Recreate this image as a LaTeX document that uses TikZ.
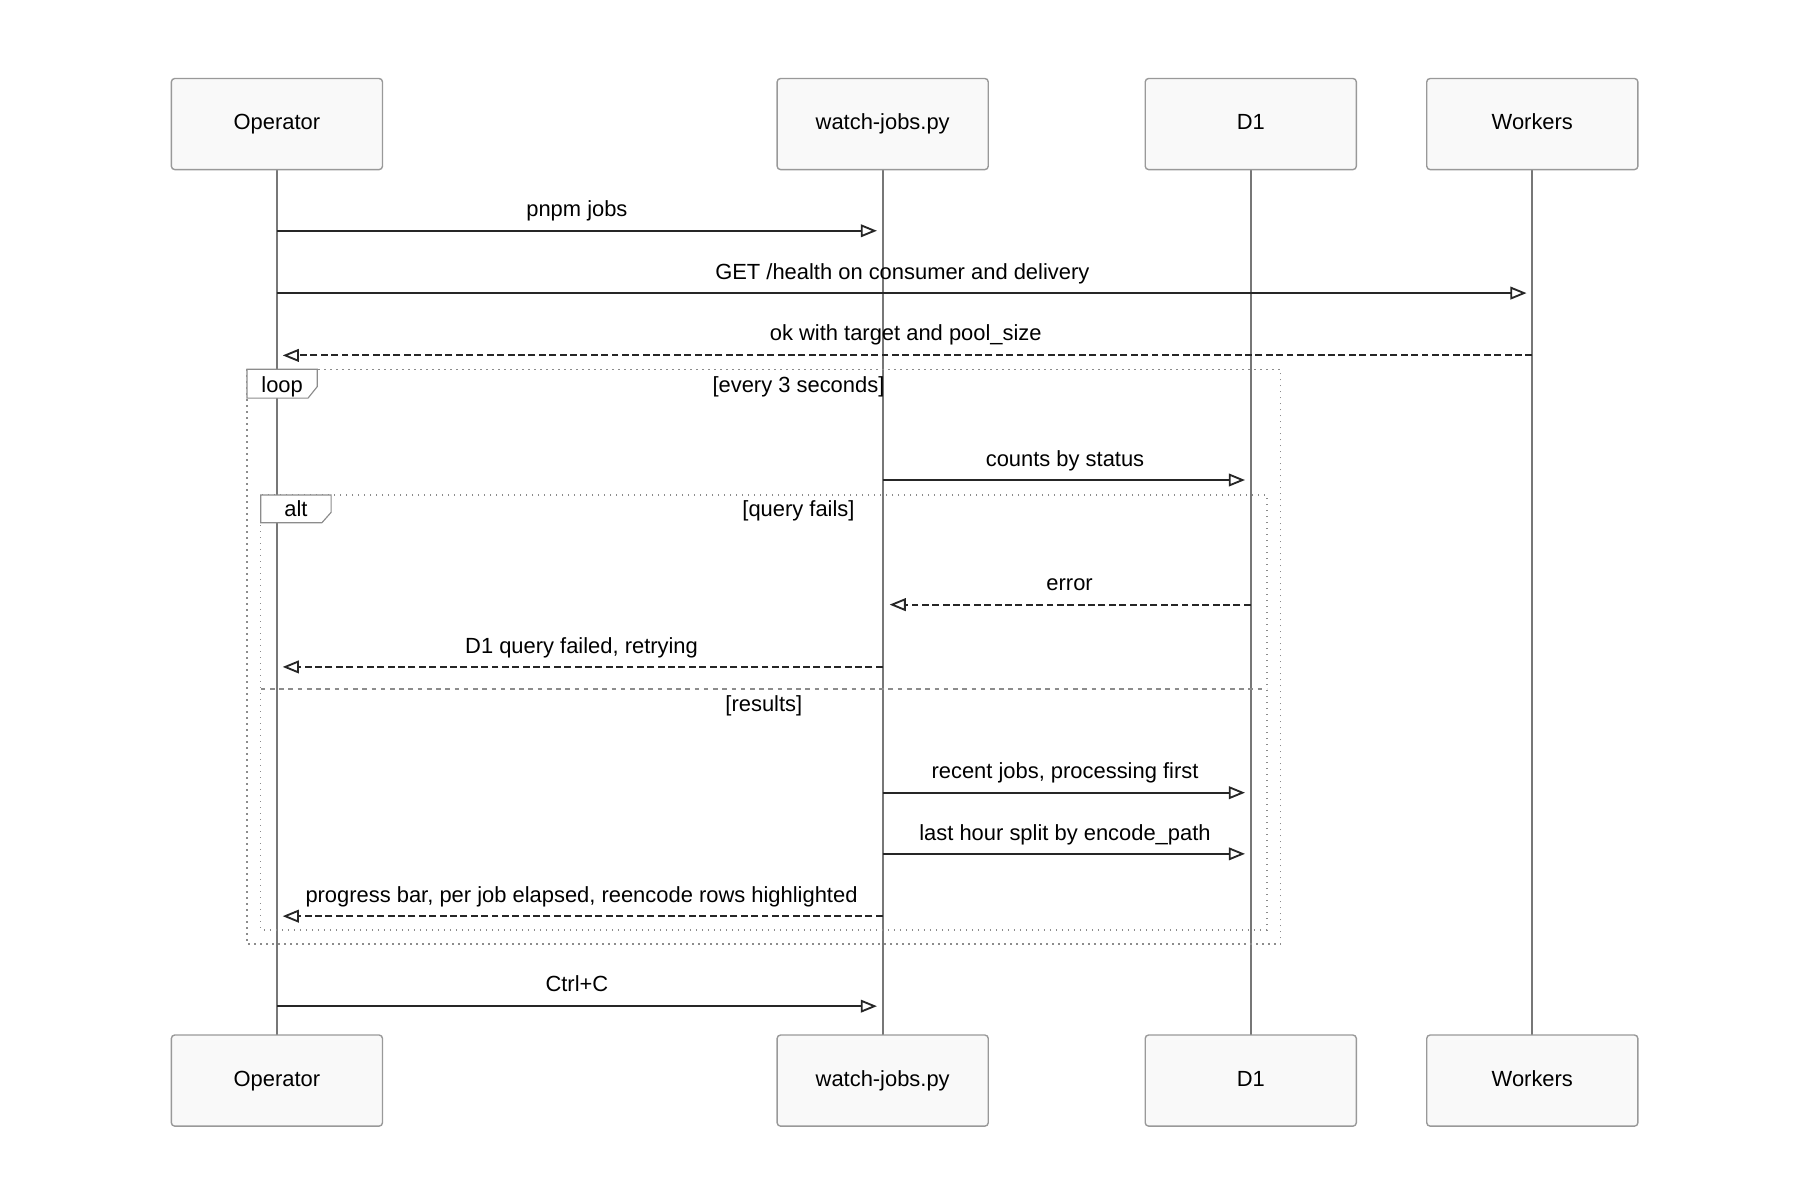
\documentclass[tikz,border=0pt]{standalone}
\usepackage{fontspec}
\setmainfont{Liberation Sans}
\usetikzlibrary{arrows.meta}
\definecolor{boxfill}{HTML}{F9F9F9}
\definecolor{boxline}{HTML}{999999}
\definecolor{lifec}{HTML}{777777}
\tikzset{
  actor/.style={draw=boxline,fill=boxfill,line width=0.6pt,rounded corners=1.5pt,minimum width=91.5pt,minimum height=39.5pt,font=\fontsize{9.5}{11}\selectfont,inner sep=0pt,text height=7pt,text depth=2pt},
  life/.style={draw=lifec,line width=1pt},
  msg/.style={line width=0.8pt,draw=black!85,-{Triangle[open,length=7pt,width=5.5pt]}},
  reply/.style={msg,dashed,dash pattern=on 3pt off 1.5pt},
  lbl/.style={font=\fontsize{9.5}{11}\selectfont,inner sep=0pt,anchor=base},
  frame/.style={draw=black!45,line width=0.6pt,dotted},
  tab/.style={draw=black!45,line width=0.5pt,fill=white}
}
\begin{document}
\begin{tikzpicture}[x=0.5pt,y=-0.5pt]
\useasboundingbox (0,0) rectangle (1560,1040);
% lifelines
\foreach \n/\x in {op/240,wj/765,d1/1084,wk/1328}{
  \coordinate (\n t) at (\x,147);
  \coordinate (\n b) at (\x,897);
  \draw[life] (\n t) -- (\n b);
}
\foreach \n/\x/\t in {op/240/Operator,wj/765/watch-jobs.py,d1/1084/D1,wk/1328/Workers}{
  \node[actor] (\n top) at (\x,107.5) {\t};
  \node[actor] (\n bot) at (\x,936.5) {\t};
}
% frames
\draw[frame] (214,320) rectangle (1110,818);
\draw[tab] (214,320) -- (275,320) -- (275,335) -- (267,345) -- (214,345) -- cycle;
\node[lbl] at (244.5,340) {loop};
\node[lbl] at (692,340) {[every 3 seconds]};
\draw[frame] (226,429) rectangle (1098,806);
\draw[tab] (226,429) -- (287,429) -- (287,444) -- (279,453) -- (226,453) -- cycle;
\node[lbl] at (256.5,448) {alt};
\node[lbl] at (692,448) {[query fails]};
\draw[frame,dashed,dash pattern=on 2pt off 2pt] (226,597) -- (1098,597);
\node[lbl] at (662,617) {[results]};
% messages
\coordinate (a1) at (240,200); \coordinate (b1) at (760,200);
\draw[msg] (a1) -- (b1); \node[lbl] at (500,188) {pnpm jobs};
\coordinate (a2) at (240,254); \coordinate (b2) at (1323,254);
\draw[msg] (a2) -- (b2); \node[lbl] at (782,242) {GET /health on consumer and delivery};
\coordinate (a3) at (1328,308); \coordinate (b3) at (245,308);
\draw[reply] (a3) -- (b3); \node[lbl] at (785,295) {ok with target and pool\_size};
\coordinate (a4) at (765,416); \coordinate (b4) at (1079,416);
\draw[msg] (a4) -- (b4); \node[lbl] at (923,404) {counts by status};
\coordinate (a5) at (1084,524); \coordinate (b5) at (771,524);
\draw[reply] (a5) -- (b5); \node[lbl] at (927,512) {error};
\coordinate (a6) at (765,578); \coordinate (b6) at (245,578);
\draw[reply] (a6) -- (b6); \node[lbl] at (504,566) {D1 query failed, retrying};
\coordinate (a7) at (765,687); \coordinate (b7) at (1079,687);
\draw[msg] (a7) -- (b7); \node[lbl] at (923,675) {recent jobs, processing first};
\coordinate (a8) at (765,740); \coordinate (b8) at (1079,740);
\draw[msg] (a8) -- (b8); \node[lbl] at (923,728) {last hour split by encode\_path};
\coordinate (a9) at (765,794); \coordinate (b9) at (245,794);
\draw[reply] (a9) -- (b9); \node[lbl] at (504,782) {progress bar, per job elapsed, reencode rows highlighted};
\coordinate (a10) at (240,872); \coordinate (b10) at (760,872);
\draw[msg] (a10) -- (b10); \node[lbl] at (500,859) {Ctrl+C};
\end{tikzpicture}
\end{document}
